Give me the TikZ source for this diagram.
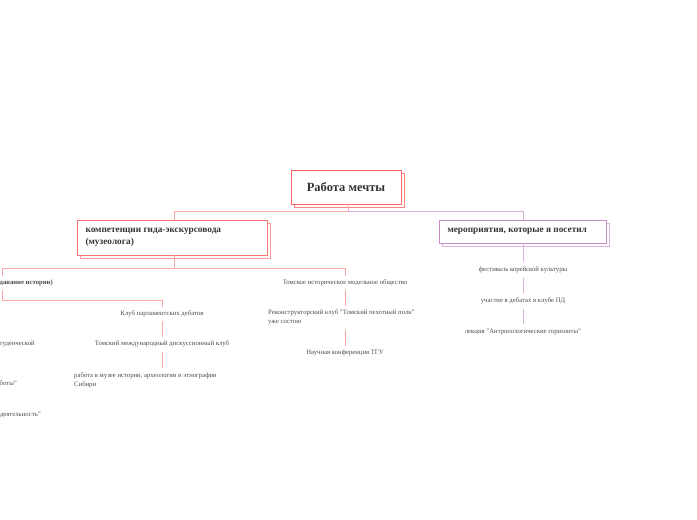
\documentclass[tikz,border=0pt]{standalone}
\usepackage{fontspec}
\setmainfont{Liberation Serif}
\begin{document}
\begin{tikzpicture}[x=1pt,y=-1pt,
  rl/.style={draw=red!35,line width=0.8pt},
  pl/.style={draw=violet!30,line width=0.8pt},
  tb/.style={font=\fontsize{10}{12}\selectfont\bfseries,text=black!80,align=left},
  sm/.style={font=\fontsize{6.7}{9}\selectfont,text=black!70,align=left,inner sep=0pt},
  smb/.style={sm,font=\fontsize{6.7}{9}\selectfont\bfseries}]
\useasboundingbox (0,0) rectangle (697,520);
% root
\draw[draw=red!50,line width=0.8pt,fill=white] (294,173) rectangle (404,207);
\draw[draw=red!60,line width=1pt,fill=white] (291,170) rectangle (401,204);
\node[tb,font=\fontsize{12.5}{14}\selectfont\bfseries] (root) at (346,187) {Работа мечты};
% child boxes
\draw[draw=red!40,line width=0.7pt,fill=white] (80,223) rectangle (270,258);
\draw[draw=red!55,line width=0.8pt,fill=white] (77,220) rectangle (267,255);
\node[tb,anchor=west,font=\fontsize{9.3}{12}\selectfont\bfseries] (c1) at (82,237) {компетенции гида-экскурсовода\\(музеолога)};
\draw[draw=violet!30,line width=0.7pt,fill=white] (442,223) rectangle (609,246);
\draw[draw=violet!45,line width=0.8pt,fill=white] (439,220) rectangle (606,243);
\node[tb,anchor=west,font=\fontsize{9.3}{12}\selectfont\bfseries] (c2) at (444,231.5) {мероприятия, которые я посетил};
% connectors root
\draw[rl] (348,204) -- (348,211) (174,211) -- (348,211) (174,211) -- (174,220);
\draw[pl] (348,211) -- (523,211) -- (523,220);
% left branch
\draw[rl] (174,255) -- (174,268) (2,268) -- (345,268) (2,268) -- (2,276) (345,268) -- (345,276);
\node[smb,anchor=east] (p) at (53,283) {Практика (преподавание истории)};
\draw[rl] (2,290) -- (2,300) -- (162,300) -- (162,307);
\node[sm] (k1) at (162,314) {Клуб парламентских дебатов};
\draw[rl] (162,321) -- (162,337);
\node[sm] (k2) at (162,344) {Томский международный дискуссионный клуб};
\draw[rl] (162,352) -- (162,368);
\node[sm,anchor=north west] (k3) at (74,372) {работа в музее истории, археологии и этнографии\\Сибири};
\node[sm,anchor=east] (l1) at (35,344) {участие в студенческой};
\node[sm,anchor=east] (l2) at (17,384) {"работы"};
\node[sm,anchor=east] (l3) at (41,415) {"деятельность"};
% right of left
\node[sm] (t1) at (345,283) {Томское историческое модельное общество};
\draw[rl] (345,290) -- (345,306);
\node[sm,anchor=north west] (t2) at (268,309) {Реконструкторский клуб "Томский пехотный полк"\\уже состою};
\draw[rl] (345,330) -- (345,346);
\node[sm] (t3) at (345,353) {Научная конференция ТГУ};
% purple branch
\draw[pl] (523,243) -- (523,262);
\node[sm] (m1) at (523,270) {фестиваль корейской культуры};
\draw[pl] (523,278) -- (523,293);
\node[sm] (m2) at (523,301) {участие в дебатах в клубе ПД};
\draw[pl] (523,309) -- (523,324);
\node[sm] (m3) at (523,332) {лекция "Антропологические горизонты"};
\end{tikzpicture}
\end{document}
